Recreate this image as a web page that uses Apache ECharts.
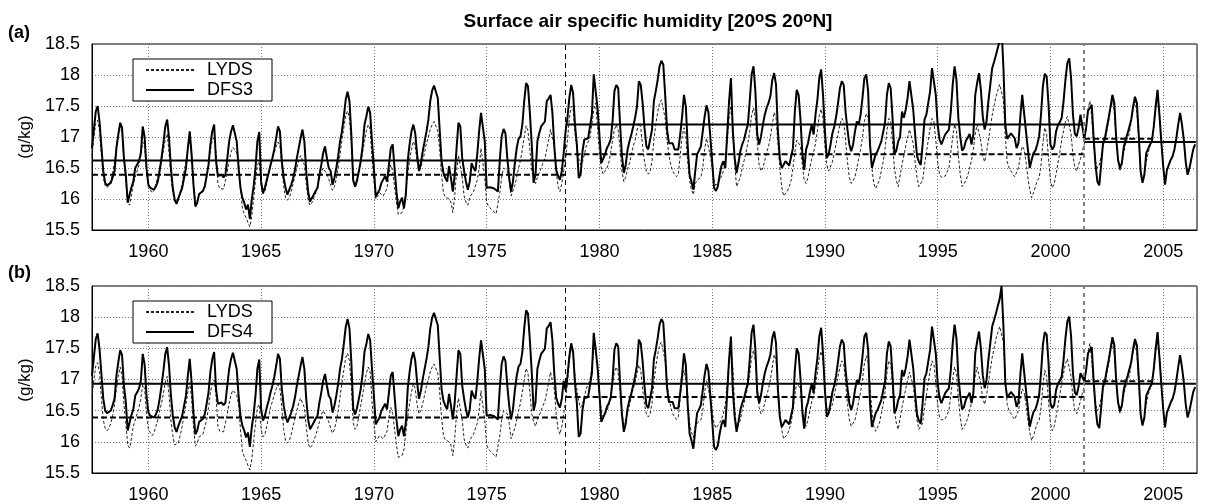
<!DOCTYPE html>
<html>
<head>
<meta charset="utf-8">
<script src="https://cdn.jsdelivr.net/npm/echarts@6/dist/echarts.min.js"></script>
<style>html,body{margin:0;padding:0;background:#fff;}#c{width:1205px;height:504px;}</style>
</head>
<body>
<div id="c"></div>
<script>
// ---------------- DATA ----------------
const titleText = 'Surface air specific humidity [20{s|o}S 20{s|o}N]';
const startYear = 1957.5;           // first monthly value (July 1957)
const xMin = 1957.5, xMax = 2006.5;
const yMin = 15.5, yMax = 18.5;
const breakYears = [1978.5, 2001.5];

// LYDS monthly (rows start in July of the labelled year)
const lyds = [
/*1957.5*/16.70,17.00,17.22,17.27,17.10,16.70,16.35,16.22,16.18,16.22,16.30,16.42,
/*1958.5*/16.60,16.85,17.05,17.20,17.05,16.60,16.30,15.95,15.90,16.06,16.25,16.35,
/*1959.5*/16.45,16.55,16.70,16.92,16.85,16.45,16.20,16.15,16.10,16.14,16.25,16.35,
/*1960.5*/16.50,16.62,16.78,16.96,17.05,16.75,16.35,16.10,15.95,15.93,15.98,16.12,
/*1961.5*/16.25,16.45,16.60,16.80,16.95,16.70,16.25,15.93,15.98,16.08,16.10,16.12,
/*1962.5*/16.15,16.35,16.55,16.78,16.95,16.99,16.75,16.25,16.17,16.15,16.16,16.30,
/*1963.5*/16.45,16.62,16.76,16.83,16.80,16.75,16.60,16.20,15.85,15.76,15.70,15.62,
/*1964.5*/15.55,15.72,16.00,16.30,16.55,16.60,16.20,16.08,16.12,16.25,16.40,16.55,
/*1965.5*/16.65,16.75,16.85,16.92,16.85,16.55,16.20,16.02,15.98,16.02,16.12,16.25,
/*1966.5*/16.38,16.50,16.62,16.70,16.72,16.55,16.25,15.98,15.90,15.94,16.02,16.10,
/*1967.5*/16.20,16.32,16.43,16.50,16.50,16.40,16.32,16.22,16.14,16.20,16.33,16.50,
/*1968.5*/16.72,16.95,17.15,17.35,17.42,17.30,16.90,16.30,16.20,16.25,16.40,16.58,
/*1969.5*/16.75,16.93,17.10,17.20,17.12,16.65,16.30,16.00,15.98,16.10,16.08,16.05,
/*1970.5*/16.08,16.17,16.40,16.55,16.45,16.20,15.95,15.75,15.73,15.78,15.88,16.15,
/*1971.5*/16.40,16.62,16.80,16.93,16.85,16.60,16.45,16.50,16.62,16.75,16.90,17.00,
/*1972.5*/17.12,17.20,17.25,17.22,17.10,16.80,16.40,16.10,16.03,16.02,16.00,15.95,
/*1973.5*/15.78,16.05,16.45,16.70,16.72,16.35,16.05,15.95,15.90,16.02,16.08,16.12,
/*1974.5*/16.15,16.30,16.50,16.82,16.80,16.35,15.95,15.88,15.86,15.82,15.80,15.76,
/*1975.5*/15.73,16.10,16.35,16.50,16.50,16.45,16.30,16.05,16.08,16.22,16.35,16.50,
/*1976.5*/16.62,16.80,17.00,17.18,17.10,16.80,16.45,16.32,16.25,16.35,16.42,16.50,
/*1977.5*/16.58,16.65,16.80,16.95,17.12,17.15,16.85,16.45,16.20,16.12,16.25,16.45,
/*1978.5*/16.65,16.95,17.30,17.50,17.45,17.05,16.85,16.65,16.55,16.60,16.72,16.85,
/*1979.5*/16.92,17.00,17.20,17.45,17.55,17.15,16.75,16.50,16.40,16.45,16.50,16.58,
/*1980.5*/16.75,16.95,17.12,17.20,17.10,16.82,16.45,16.28,16.35,16.48,16.58,16.72,
/*1981.5*/16.85,16.95,17.10,17.23,17.15,16.85,16.60,16.45,16.40,16.45,16.62,16.95,
/*1982.5*/17.20,17.40,17.55,17.60,17.45,17.30,16.95,16.70,16.55,16.45,16.40,16.36,
/*1983.5*/16.40,16.70,17.00,17.15,17.00,16.60,16.30,16.15,16.07,16.25,16.30,16.30,
/*1984.5*/16.35,16.50,16.80,16.98,17.00,16.70,16.50,16.30,16.22,16.24,16.30,16.37,
/*1985.5*/16.45,16.60,16.95,17.30,17.50,17.20,16.55,16.20,16.20,16.35,16.50,16.62,
/*1986.5*/16.75,16.90,17.10,17.35,17.47,17.30,16.90,16.55,16.45,16.50,16.62,16.75,
/*1987.5*/16.85,17.00,17.20,17.40,17.30,16.90,16.50,16.20,16.05,16.03,16.12,16.20,
/*1988.5*/16.30,16.50,16.75,16.95,16.98,16.85,16.55,16.30,16.25,16.35,16.50,16.65,
/*1989.5*/16.75,16.90,17.10,17.35,17.45,17.30,16.85,16.55,16.45,16.45,16.60,16.75,
/*1990.5*/16.90,17.05,17.20,17.30,17.25,16.95,16.60,16.35,16.25,16.25,16.35,16.50,
/*1991.5*/16.65,16.80,17.00,17.25,17.38,17.30,16.90,16.50,16.25,16.17,16.20,16.30,
/*1992.5*/16.45,16.60,16.80,17.10,17.30,17.25,16.90,16.50,16.30,16.20,16.22,16.55,
/*1993.5*/16.70,16.85,17.00,17.12,17.15,16.90,16.60,16.35,16.20,16.20,16.30,16.55,
/*1994.5*/16.75,16.95,17.15,17.30,17.25,16.95,16.60,16.40,16.35,16.34,16.37,16.38,
/*1995.5*/16.50,16.75,17.00,17.20,17.10,16.70,16.40,16.20,16.24,16.30,16.38,16.50,
/*1996.5*/16.62,16.80,17.05,17.20,17.18,16.92,16.70,16.60,16.75,16.95,17.15,17.35,
/*1997.5*/17.50,17.65,17.75,17.85,17.87,17.60,17.00,16.60,16.50,16.45,16.40,16.36,
/*1998.5*/16.34,16.50,16.70,16.85,16.80,16.60,16.35,16.15,16.02,16.10,16.20,16.30,
/*1999.5*/16.34,16.55,16.90,17.15,17.05,16.65,16.30,16.18,16.25,16.40,16.58,16.75,
/*2000.5*/16.95,17.10,17.25,17.33,17.30,17.05,16.70,16.50,16.45,16.55,16.65,16.78,
/*2001.5*/16.88,17.15,17.45,17.58,17.30,16.90,16.60,16.50,16.55,16.70,16.85,16.95,
/*2002.5*/17.10,17.25,17.45,17.60,17.40,16.95,16.62,16.45,16.55,16.75,16.88,16.98,
/*2003.5*/17.05,17.25,17.45,17.58,17.40,16.95,16.40,16.30,16.40,16.60,16.75,16.85,
/*2004.5*/16.95,17.15,17.45,17.65,17.40,16.95
];

// DFS3 monthly
const dfs3 = [
/*1957.5*/16.82,17.12,17.41,17.50,17.25,16.85,16.45,16.26,16.22,16.20,16.26,16.35,
/*1958.5*/16.45,16.82,17.04,17.23,17.15,16.66,16.39,15.94,16.07,16.19,16.28,16.50,
/*1959.5*/16.53,16.61,16.74,17.17,17.00,16.50,16.23,16.18,16.17,16.15,16.20,16.28,
/*1960.5*/16.45,16.66,16.90,17.17,17.28,16.98,16.50,16.18,15.99,15.92,16.02,16.10,
/*1961.5*/16.18,16.34,16.50,16.82,17.09,16.72,16.23,15.88,15.94,16.08,16.11,16.13,
/*1962.5*/16.20,16.37,16.55,16.88,17.09,17.20,16.61,16.37,16.35,16.39,16.35,16.39,
/*1963.5*/16.66,16.93,17.09,17.19,17.21,16.93,16.50,16.18,16.02,15.94,15.83,15.91,
/*1964.5*/15.68,15.99,16.20,16.50,16.93,17.08,16.28,16.10,16.18,16.31,16.42,16.55,
/*1965.5*/16.66,16.80,16.98,17.17,17.09,16.61,16.34,16.18,16.07,16.15,16.23,16.33,
/*1966.5*/16.47,16.66,16.82,16.98,17.12,16.93,16.45,16.12,15.96,15.97,16.07,16.13,
/*1967.5*/16.18,16.39,16.55,16.74,16.85,16.66,16.50,16.45,16.23,16.34,16.50,16.69,
/*1968.5*/16.93,17.09,17.33,17.60,17.73,17.58,17.04,16.30,16.20,16.30,16.45,16.61,
/*1969.5*/16.85,17.20,17.33,17.49,17.39,16.93,16.50,16.04,16.02,16.15,16.26,16.28,
/*1970.5*/16.37,16.28,16.55,16.82,16.88,16.50,16.12,15.85,15.96,16.02,15.85,16.07,
/*1971.5*/16.61,16.88,17.09,17.20,17.06,16.72,16.45,16.58,16.77,16.93,17.09,17.28,
/*1972.5*/17.58,17.75,17.83,17.84,17.63,17.12,16.61,16.42,16.34,16.28,16.53,16.34,
/*1973.5*/16.12,16.39,16.82,17.23,17.17,16.66,16.45,16.28,16.15,16.28,16.58,16.50,
/*1974.5*/16.45,16.72,17.09,17.39,17.42,16.93,16.18,16.17,16.19,16.20,16.17,16.20,
/*1975.5*/16.12,16.63,17.01,17.13,17.06,16.66,16.34,16.12,16.28,16.58,16.82,16.97,
/*1976.5*/17.01,17.20,17.58,17.87,17.82,17.39,16.88,16.26,16.39,16.93,17.06,17.17,
/*1977.5*/17.15,17.25,17.58,17.62,17.68,17.39,16.85,16.47,16.37,16.31,16.45,16.74,
/*1978.5*/17.09,17.31,17.63,17.84,17.71,17.20,16.88,16.34,16.39,16.77,16.96,16.93,
/*1979.5*/16.98,17.01,17.36,18.01,17.98,17.47,17.04,16.58,16.55,16.72,16.82,16.88,
/*1980.5*/16.96,17.25,17.74,17.84,17.79,17.20,16.70,16.42,16.55,16.80,16.93,17.04,
/*1981.5*/17.17,17.31,17.49,17.90,17.84,17.55,17.15,16.85,16.80,16.77,17.12,17.58,
/*1982.5*/17.74,17.92,18.14,18.23,18.17,17.68,17.12,16.90,16.89,16.90,16.80,16.80,
/*1983.5*/16.80,17.04,17.33,17.68,17.49,16.85,16.39,16.28,16.15,16.45,16.72,16.78,
/*1984.5*/16.85,17.09,17.33,17.51,17.40,17.01,16.61,16.18,16.13,16.20,16.39,16.54,
/*1985.5*/16.61,16.50,17.04,17.58,17.95,17.09,16.66,16.42,16.58,16.77,16.88,16.96,
/*1986.5*/17.09,17.20,17.58,18.01,18.14,17.74,17.04,16.88,17.01,17.20,17.36,17.47,
/*1987.5*/17.55,17.66,17.92,18.03,17.84,17.09,16.66,16.50,16.55,16.61,16.58,16.54,
/*1988.5*/16.55,16.82,17.41,17.76,17.68,17.28,16.74,16.47,16.80,16.90,17.06,17.20,
/*1989.5*/17.04,17.36,17.60,17.95,18.09,17.68,17.09,16.66,16.72,16.88,17.06,17.17,
/*1990.5*/17.33,17.55,17.79,17.90,17.84,17.41,17.12,16.88,16.77,16.88,17.09,17.25,
/*1991.5*/17.20,17.36,17.63,17.95,18.01,17.74,16.88,16.50,16.53,16.72,16.77,16.80,
/*1992.5*/16.93,16.96,17.23,17.68,17.87,17.79,17.30,16.72,16.78,16.93,17.00,17.41,
/*1993.5*/17.31,17.44,17.63,17.90,17.90,17.44,17.04,16.70,16.60,16.55,16.88,17.28,
/*1994.5*/17.36,17.36,17.74,18.11,18.14,17.68,17.20,16.96,16.88,16.88,17.04,17.04,
/*1995.5*/17.12,17.41,17.84,18.14,17.92,17.31,17.01,16.78,16.82,16.94,16.99,17.05,
/*1996.5*/16.88,17.04,17.68,17.87,18.03,17.76,17.33,17.12,17.25,17.58,17.84,18.11,
/*1997.5*/18.21,18.32,18.44,18.55,18.76,18.11,17.20,16.97,16.99,17.06,17.04,16.98,
/*1998.5*/16.82,16.90,17.33,17.68,17.71,17.09,16.80,16.50,16.63,16.74,16.78,16.88,
/*1999.5*/17.01,17.36,17.82,18.02,17.98,17.52,16.88,16.80,16.85,17.09,17.19,17.24,
/*2000.5*/17.31,17.58,17.92,18.19,18.27,17.95,17.36,17.05,17.01,17.15,17.36,17.36,
/*2001.5*/16.98,17.15,17.42,17.45,17.52,16.98,16.55,16.28,16.22,16.55,16.90,16.98,
/*2002.5*/17.15,17.31,17.49,17.68,17.55,16.98,16.63,16.50,16.58,16.83,16.96,17.05,
/*2003.5*/17.08,17.28,17.49,17.65,17.55,17.04,16.45,16.26,16.39,16.74,16.81,16.88,
/*2004.5*/16.93,17.17,17.49,17.76,17.36,16.93,16.53,16.23,16.47,16.55,16.63,16.69,
/*2005.5*/16.80,16.98,17.20,17.39,17.20,16.95,16.60,16.39,16.50,16.65,16.80,16.88
];

// DFS4 monthly
const dfs4 = [
/*1957.5*/17.06,17.36,17.65,17.74,17.49,17.09,16.69,16.50,16.46,16.44,16.50,16.59,
/*1958.5*/16.69,17.06,17.28,17.47,17.39,16.90,16.63,16.18,16.31,16.43,16.52,16.74,
/*1959.5*/16.77,16.85,16.98,17.41,17.24,16.74,16.47,16.42,16.41,16.39,16.44,16.52,
/*1960.5*/16.69,16.90,17.14,17.41,17.52,17.22,16.74,16.42,16.23,16.16,16.26,16.34,
/*1961.5*/16.42,16.58,16.74,17.06,17.33,16.96,16.47,16.12,16.18,16.32,16.35,16.37,
/*1962.5*/16.44,16.61,16.79,17.12,17.33,17.44,16.85,16.61,16.59,16.63,16.59,16.63,
/*1963.5*/16.90,17.17,17.33,17.43,17.45,17.17,16.74,16.42,16.26,16.18,16.07,16.15,
/*1964.5*/15.92,16.23,16.44,16.74,17.17,17.32,16.52,16.34,16.42,16.55,16.66,16.79,
/*1965.5*/16.90,17.04,17.22,17.41,17.33,16.85,16.58,16.42,16.31,16.39,16.47,16.57,
/*1966.5*/16.71,16.90,17.06,17.22,17.36,17.17,16.69,16.36,16.20,16.21,16.31,16.37,
/*1967.5*/16.42,16.63,16.79,16.98,17.09,16.90,16.74,16.69,16.47,16.58,16.74,16.93,
/*1968.5*/17.17,17.33,17.57,17.84,17.97,17.82,17.28,16.54,16.44,16.54,16.69,16.85,
/*1969.5*/17.09,17.44,17.57,17.73,17.63,17.17,16.74,16.28,16.26,16.39,16.50,16.52,
/*1970.5*/16.61,16.52,16.79,17.06,17.12,16.74,16.36,16.09,16.20,16.26,16.09,16.31,
/*1971.5*/16.85,17.12,17.33,17.44,17.30,16.96,16.69,16.82,17.01,17.17,17.33,17.52,
/*1972.5*/17.82,17.99,18.07,18.08,17.87,17.36,16.85,16.66,16.58,16.52,16.77,16.58,
/*1973.5*/16.36,16.63,17.06,17.47,17.41,16.90,16.69,16.52,16.39,16.52,16.82,16.74,
/*1974.5*/16.69,16.96,17.33,17.63,17.66,17.17,16.42,16.41,16.43,16.44,16.41,16.44,
/*1975.5*/16.36,16.87,17.25,17.37,17.30,16.90,16.58,16.36,16.52,16.82,17.06,17.21,
/*1976.5*/17.25,17.44,17.82,18.11,18.06,17.63,17.12,16.50,16.63,17.17,17.30,17.41,
/*1977.5*/17.39,17.49,17.82,17.86,17.92,17.63,17.09,16.71,16.61,16.55,16.69,16.98,
/*1978.5*/16.83,17.05,17.37,17.58,17.45,16.94,16.62,16.08,16.13,16.51,16.70,16.67,
/*1979.5*/16.72,16.75,17.10,17.75,17.72,17.21,16.78,16.32,16.29,16.46,16.56,16.62,
/*1980.5*/16.70,16.99,17.48,17.58,17.53,16.94,16.44,16.16,16.29,16.54,16.67,16.78,
/*1981.5*/16.91,17.05,17.23,17.64,17.58,17.29,16.89,16.59,16.54,16.51,16.86,17.32,
/*1982.5*/17.48,17.66,17.88,17.97,17.91,17.42,16.86,16.64,16.63,16.64,16.54,16.54,
/*1983.5*/16.54,16.78,17.07,17.42,17.23,16.59,16.13,16.02,15.89,16.19,16.46,16.52,
/*1984.5*/16.59,16.83,17.07,17.25,17.14,16.75,16.35,15.92,15.87,15.94,16.13,16.28,
/*1985.5*/16.35,16.24,16.78,17.32,17.69,16.83,16.40,16.16,16.32,16.51,16.62,16.70,
/*1986.5*/16.83,16.94,17.32,17.75,17.88,17.48,16.78,16.62,16.75,16.94,17.10,17.21,
/*1987.5*/17.29,17.40,17.66,17.77,17.58,16.83,16.40,16.24,16.29,16.35,16.32,16.28,
/*1988.5*/16.29,16.56,17.15,17.50,17.42,17.02,16.48,16.21,16.54,16.64,16.80,16.94,
/*1989.5*/16.78,17.10,17.34,17.69,17.83,17.42,16.83,16.40,16.46,16.62,16.80,16.91,
/*1990.5*/17.07,17.29,17.53,17.64,17.58,17.15,16.86,16.62,16.51,16.62,16.83,16.99,
/*1991.5*/16.94,17.10,17.37,17.69,17.75,17.48,16.62,16.24,16.27,16.46,16.51,16.54,
/*1992.5*/16.67,16.70,16.97,17.42,17.61,17.53,17.04,16.46,16.52,16.67,16.74,17.15,
/*1993.5*/17.05,17.18,17.37,17.64,17.64,17.18,16.78,16.44,16.34,16.29,16.62,17.02,
/*1994.5*/17.10,17.10,17.48,17.85,17.88,17.42,16.94,16.70,16.62,16.62,16.78,16.78,
/*1995.5*/16.86,17.15,17.58,17.88,17.66,17.05,16.75,16.52,16.56,16.68,16.73,16.79,
/*1996.5*/16.62,16.78,17.42,17.61,17.77,17.50,17.07,16.86,16.99,17.32,17.58,17.85,
/*1997.5*/17.95,18.06,18.18,18.29,18.50,17.85,16.94,16.71,16.73,16.80,16.78,16.72,
/*1998.5*/16.56,16.64,17.07,17.42,17.45,16.83,16.54,16.24,16.37,16.48,16.52,16.62,
/*1999.5*/16.75,17.10,17.56,17.76,17.72,17.26,16.62,16.54,16.59,16.83,16.93,16.98,
/*2000.5*/17.05,17.32,17.66,17.93,18.01,17.69,17.10,16.79,16.75,16.89,17.10,17.10,
/*2001.5*/16.98,17.15,17.42,17.45,17.52,16.98,16.55,16.28,16.22,16.55,16.90,16.98,
/*2002.5*/17.15,17.31,17.49,17.68,17.55,16.98,16.63,16.50,16.58,16.83,16.96,17.05,
/*2003.5*/17.08,17.28,17.49,17.65,17.55,17.04,16.45,16.26,16.39,16.74,16.81,16.88,
/*2004.5*/16.93,17.17,17.49,17.76,17.36,16.93,16.53,16.23,16.47,16.55,16.63,16.69,
/*2005.5*/16.80,16.98,17.20,17.39,17.20,16.95,16.60,16.39,16.50,16.65,16.80,16.88
];

// period means: [from, to, value]
const lydsMeans = [[1957.5, 1978.5, 16.39], [1978.5, 2001.5, 16.72], [2001.5, 2004.5, 16.97]];
const dfs3Means = [[1957.5, 1978.5, 16.62], [1978.5, 2001.5, 17.20], [2001.5, 2006.45, 16.92]];
const dfs4Means = [[1957.5, 2006.45, 16.93]];

// ---------------- CHART ----------------
const FONT = 'Liberation Sans, Arial, Helvetica, sans-serif';
const toPts = arr => arr.map((v, i) => [startYear + i / 12, v]);

const chart = echarts.init(document.getElementById('c'), null, {renderer: 'canvas'});

const grids = [
  {left: 92, top: 44, width: 1105, height: 186},
  {left: 92, top: 286, width: 1105, height: 187}
];

function xAxis(idx) {
  return {
    type: 'value', gridIndex: idx, min: xMin, max: xMax, splitNumber: 10,
    axisLine: {show: true, lineStyle: {color: '#000', width: 1}},
    axisTick: {show: false},
    axisLabel: {color: '#000', fontSize: 18, fontFamily: FONT, margin: 13,
      formatter: v => (Math.abs(v % 5) < 1e-6 ? String(v) : '')},
    splitLine: {show: true, lineStyle: {color: '#777', type: [1, 2], width: 1}}
  };
}
function yAxis(idx) {
  return {
    type: 'value', gridIndex: idx, min: yMin, max: yMax, interval: 0.5,
    axisLine: {show: true, lineStyle: {color: '#000', width: 1}},
    axisTick: {show: false},
    axisLabel: {color: '#000', fontSize: 18, fontFamily: FONT, margin: 12},
    splitLine: {show: true, lineStyle: {color: '#777', type: [1, 2], width: 1}}
  };
}

const vLines = {
  silent: true, symbol: ['none', 'none'], label: {show: false}, animation: false,
  data: [
    {xAxis: breakYears[0], lineStyle: {color: '#000', type: [5, 4], width: 1}},
    {xAxis: breakYears[1], lineStyle: {color: '#808080', type: [4, 4], width: 2}}
  ]
};

function meanSeries(list, idx, dashed) {
  return list.map(m => ({
    type: 'line', xAxisIndex: idx, yAxisIndex: idx, silent: true, symbol: 'none',
    animation: false, z: 4,
    data: [[m[0], m[2]], [m[1], m[2]]],
    lineStyle: {color: '#000', width: 2, type: dashed ? [6, 3] : 'solid'}
  }));
}

function panelSeries(idx, dfsName, dfsData, dfsMeans) {
  return [
    {name: 'LYDS', type: 'line', xAxisIndex: idx, yAxisIndex: idx, data: toPts(lyds),
     symbol: 'none', showSymbol: false, animation: false, z: 2,
     itemStyle: {color: '#222'}, lineStyle: {color: '#222', width: 1, type: [3, 2]}},
    {name: dfsName, type: 'line', xAxisIndex: idx, yAxisIndex: idx, data: toPts(dfsData),
     symbol: 'none', showSymbol: false, animation: false, z: 3,
     itemStyle: {color: '#000'}, lineStyle: {color: '#000', width: 2},
     markLine: vLines},
    ...meanSeries(lydsMeans, idx, true),
    ...meanSeries(dfsMeans, idx, false)
  ];
}

function legend(top, names) {
  return {
    show: true, orient: 'vertical', left: 133, top: top, data: names,
    backgroundColor: '#fff', borderColor: '#000', borderWidth: 1,
    padding: [2, 19, 2, 12], itemGap: 2, itemWidth: 48, itemHeight: 16,
    selectedMode: false,
    itemStyle: {color: 'transparent', borderColor: 'transparent', borderWidth: 0, opacity: 0},
    textStyle: {color: '#000', fontSize: 18, fontFamily: FONT, padding: [0, 0, 0, 8]}
  };
}

chart.setOption({
  animation: false,
  backgroundColor: '#fff',
  grid: grids.map(g => Object.assign({show: true, borderColor: '#000', borderWidth: 1, backgroundColor: 'transparent'}, g)),
  xAxis: [xAxis(0), xAxis(1)],
  yAxis: [yAxis(0), yAxis(1)],
  legend: [legend(59, ['LYDS', 'DFS3']), legend(301, ['LYDS', 'DFS4'])],
  series: [
    ...panelSeries(0, 'DFS3', dfs3, dfs3Means),
    ...panelSeries(1, 'DFS4', dfs4, dfs4Means)
  ],
  graphic: [
    {type: 'text', x: 648, y: 22, silent: true, style: {
      text: titleText, align: 'center', verticalAlign: 'middle', fill: '#000',
      font: 'bold 19px ' + FONT,
      rich: {s: {font: 'bold 15px ' + FONT, fill: '#000', padding: [0, 0, 8, 0]}}
    }},
    {type: 'text', x: 8, y: 33, silent: true, style: {text: '(a)', verticalAlign: 'middle', fill: '#000', font: 'bold 18px ' + FONT}},
    {type: 'text', x: 8, y: 273, silent: true, style: {text: '(b)', verticalAlign: 'middle', fill: '#000', font: 'bold 18px ' + FONT}},
    {type: 'text', x: 25, y: 137, rotation: Math.PI / 2, silent: true, style: {text: '(g/kg)', align: 'center', verticalAlign: 'middle', fill: '#000', font: '17px ' + FONT}},
    {type: 'text', x: 25, y: 380, rotation: Math.PI / 2, silent: true, style: {text: '(g/kg)', align: 'center', verticalAlign: 'middle', fill: '#000', font: '17px ' + FONT}}
  ]
});
</script>
</body>
</html>
